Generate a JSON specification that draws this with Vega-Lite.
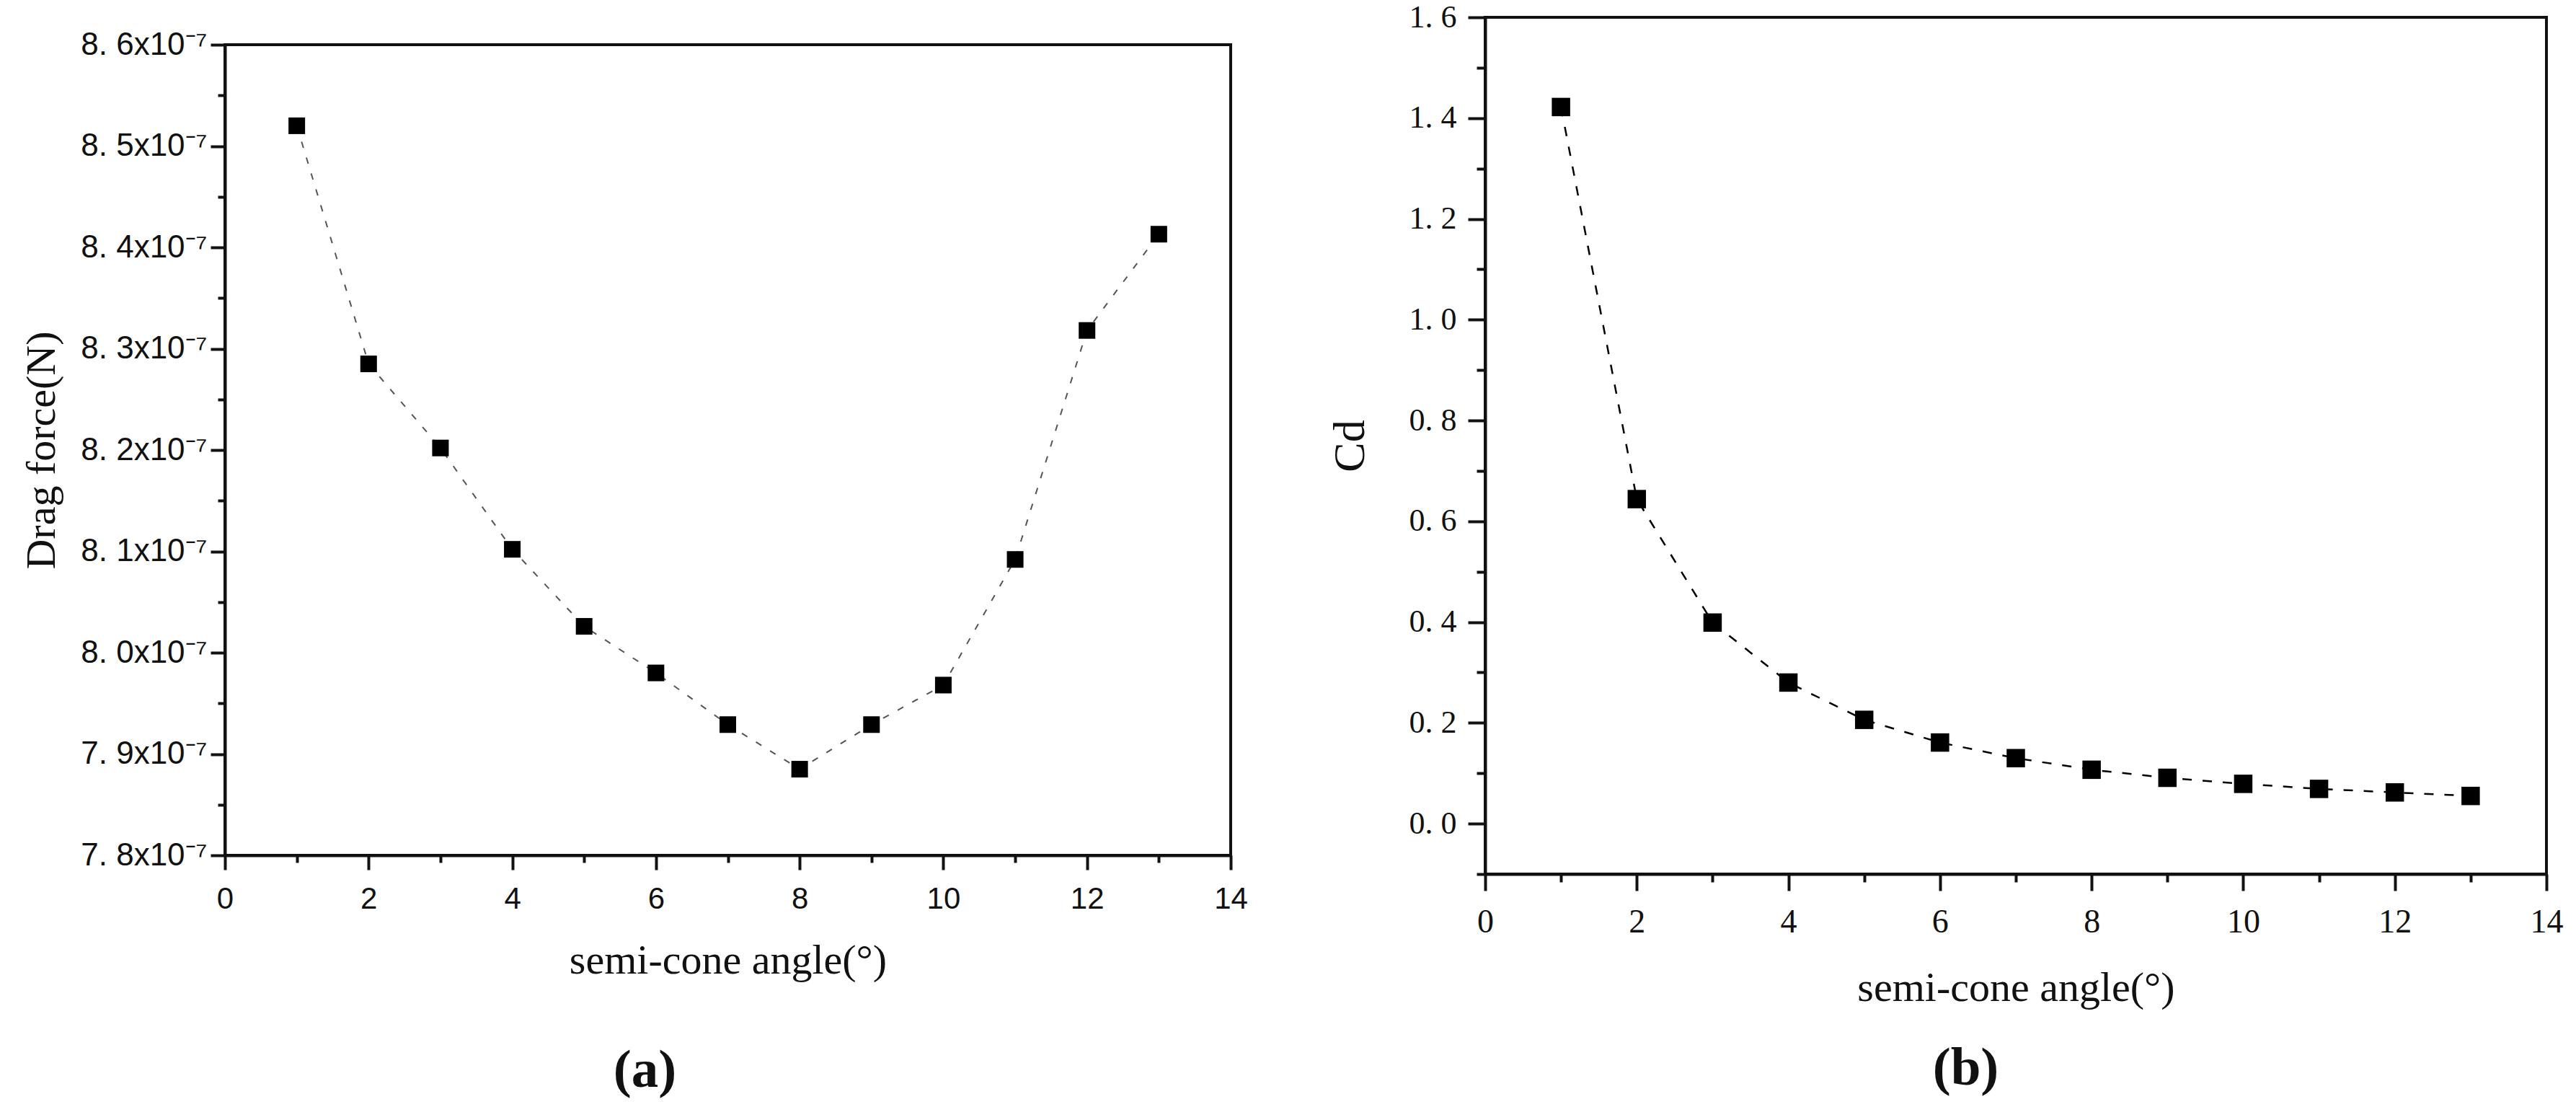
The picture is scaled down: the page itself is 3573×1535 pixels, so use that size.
{
  "$schema": "https://vega.github.io/schema/vega-lite/v6.json",
  "background": "white",
  "padding": {"left": 27, "top": 0, "right": 0, "bottom": 0},
  "spacing": 106,
  "config": {
    "view": {"stroke": "#111", "strokeWidth": 4},
    "axis": {"grid": false, "domainColor": "#111", "domainWidth": 4, "tickColor": "#111", "tickWidth": 4, "labelColor": "#111", "titleColor": "#111", "titleFontWeight": "normal", "labelOverlap": false}
  },
  "hconcat": [
    {
      "spacing": 13,
      "vconcat": [
        {
          "width": 1395,
          "height": 1,
          "data": {"values": [{"s": 0}]},
          "mark": {"type": "point", "opacity": 0, "size": 1},
          "view": {"stroke": null}
        },
        {
          "width": 1395,
          "height": 1124,
          "data": {"values": [
            {"angle": 1, "drag": 8.52e-7},
            {"angle": 2, "drag": 8.285e-7},
            {"angle": 3, "drag": 8.202e-7},
            {"angle": 4, "drag": 8.102e-7},
            {"angle": 5, "drag": 8.026e-7},
            {"angle": 6, "drag": 7.98e-7},
            {"angle": 7, "drag": 7.929e-7},
            {"angle": 8, "drag": 7.885e-7},
            {"angle": 9, "drag": 7.929e-7},
            {"angle": 10, "drag": 7.968e-7},
            {"angle": 11, "drag": 8.092e-7},
            {"angle": 12, "drag": 8.318e-7},
            {"angle": 13, "drag": 8.413e-7}
          ]},
          "layer": [
            {
              "mark": {"type": "line", "color": "#555", "strokeWidth": 2, "strokeDash": [9, 14]},
              "encoding": {
                "x": {"field": "angle", "type": "quantitative", "scale": {"domain": [0, 14], "nice": false},
                  "axis": {"orient": "bottom", "values": [0, 2, 4, 6, 8, 10, 12, 14], "tickSize": 20, "labelPadding": 20, "labelFont": "Liberation Sans", "labelFontSize": 42, "labelFlush": false,
                    "title": "semi-cone angle(°)", "titleFont": "Liberation Serif", "titleFontSize": 58, "titlePadding": 36}},
                "y": {"field": "drag", "type": "quantitative", "scale": {"domain": [7.8e-7, 8.6e-7], "nice": false, "zero": false},
                  "axis": {"orient": "left", "values": [7.8e-7, 7.9e-7, 8.0e-7, 8.1e-7, 8.2e-7, 8.3e-7, 8.4e-7, 8.5e-7, 8.6e-7], "tickSize": 20, "labelPadding": 5, "labelFont": "Liberation Sans", "labelFontSize": 44,
                    "labelExpr": "replace(format(datum.value*1e7,'.1f'),'.','. ')+'x10⁻⁷'",
                    "title": "Drag force(N)", "titleFont": "Liberation Serif", "titleFontSize": 58, "titlePadding": 25}}
              }
            },
            {
              "mark": {"type": "point", "shape": "square", "filled": true, "color": "black", "size": 530, "opacity": 1},
              "encoding": {
                "x": {"field": "angle", "type": "quantitative",
                  "axis": {"orient": "bottom", "values": [1, 3, 5, 7, 9, 11, 13], "tickSize": 10, "labels": false, "domain": false,
                    "title": "(a)", "titleFont": "Liberation Serif", "titleFontSize": 75, "titleFontWeight": "bold", "titlePadding": 249, "titleX": 582}},
                "y": {"field": "drag", "type": "quantitative",
                  "axis": {"orient": "left", "values": [7.85e-7, 7.95e-7, 8.05e-7, 8.15e-7, 8.25e-7, 8.35e-7, 8.45e-7, 8.55e-7], "tickSize": 10, "labels": false, "domain": false, "title": null}}
              }
            }
          ],
          "resolve": {"axis": {"x": "independent", "y": "independent"}}
        }
      ]
    },
    {
      "width": 1472,
      "height": 1188,
      "data": {"values": [
        {"angle": 1, "cd": 1.422},
        {"angle": 2, "cd": 0.644},
        {"angle": 3, "cd": 0.399},
        {"angle": 4, "cd": 0.28},
        {"angle": 5, "cd": 0.206},
        {"angle": 6, "cd": 0.161},
        {"angle": 7, "cd": 0.13},
        {"angle": 8, "cd": 0.107},
        {"angle": 9, "cd": 0.091},
        {"angle": 10, "cd": 0.079},
        {"angle": 11, "cd": 0.069},
        {"angle": 12, "cd": 0.062},
        {"angle": 13, "cd": 0.055}
      ]},
      "layer": [
        {
          "mark": {"type": "line", "color": "black", "strokeWidth": 2.5, "strokeDash": [13, 15]},
          "encoding": {
            "x": {"field": "angle", "type": "quantitative", "scale": {"domain": [0, 14], "nice": false},
              "axis": {"orient": "bottom", "values": [0, 2, 4, 6, 8, 10, 12, 14], "tickSize": 23, "labelPadding": 21, "labelFont": "Liberation Serif", "labelFontSize": 46, "labelFlush": false,
                "title": "semi-cone angle(°)", "titleFont": "Liberation Serif", "titleFontSize": 58, "titlePadding": 40}},
            "y": {"field": "cd", "type": "quantitative", "scale": {"domain": [-0.1, 1.6], "nice": false, "zero": false},
              "axis": {"orient": "left", "values": [0, 0.2, 0.4, 0.6, 0.8, 1.0, 1.2, 1.4, 1.6], "tickSize": 24, "labelPadding": 16, "labelFont": "Liberation Serif", "labelFontSize": 44,
                "labelExpr": "replace(format(datum.value,'.1f'),'.','. ')",
                "title": "Cd", "titleFont": "Liberation Serif", "titleFontSize": 62, "titlePadding": 50}}
          }
        },
        {
          "mark": {"type": "point", "shape": "square", "filled": true, "color": "black", "size": 650, "opacity": 1},
          "encoding": {
            "x": {"field": "angle", "type": "quantitative",
              "axis": {"orient": "bottom", "values": [1, 3, 5, 7, 9, 11, 13], "tickSize": 11, "labels": false, "domain": false,
                "title": "(b)", "titleFont": "Liberation Serif", "titleFontSize": 75, "titleFontWeight": "bold", "titlePadding": 219, "titleX": 666}},
            "y": {"field": "cd", "type": "quantitative",
              "axis": {"orient": "left", "values": [-0.1, 0.1, 0.3, 0.5, 0.7, 0.9, 1.1, 1.3, 1.5], "tickSize": 12, "labels": false, "domain": false, "title": null}}
          }
        }
      ],
      "resolve": {"axis": {"x": "independent", "y": "independent"}}
    }
  ]
}
